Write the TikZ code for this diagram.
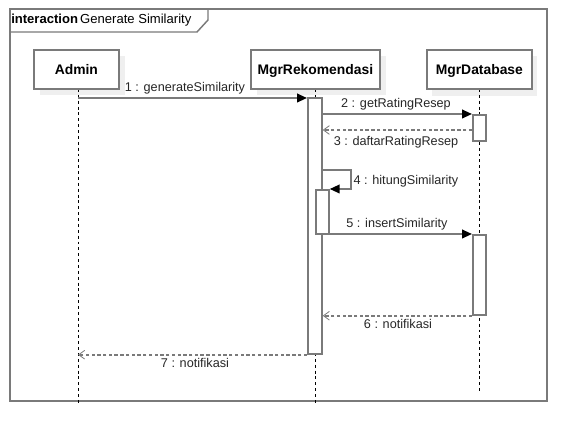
\documentclass[tikz,border=0pt]{standalone}
\usepackage{fontspec}
\setmainfont{Liberation Sans}
\usetikzlibrary{arrows.meta,positioning}
\definecolor{ln}{HTML}{7A7A7A}
\definecolor{sh}{HTML}{EFEFEF}
\tikzset{
  head/.style={draw=ln,line width=1.3pt,fill=white,minimum width=#1,minimum height=29.25pt,anchor=north west,inner sep=0pt,font=\fontsize{10.4}{11}\selectfont\bfseries,text depth=0pt},
  shadowbox/.style={fill=sh,draw=none},
  life/.style={draw=black,line width=0.6pt,dash pattern=on 2.2pt off 2.2pt},
  act/.style={draw=ln,line width=1.3pt,fill=white},
  sync/.style={draw=ln,line width=1.4pt,-{Triangle[length=7.5pt,width=6.5pt,fill=black,color=black]}},
  ret/.style={draw=ln,line width=1.2pt,dash pattern=on 2.5pt off 1.8pt,-{Straight Barb[length=4.5pt,width=6.5pt,line width=0.6pt]}},
  lbl/.style={font=\fontsize{9.5}{10}\selectfont,text=black!85,inner sep=1pt},
}
\begin{document}
\begin{tikzpicture}[x=0.75pt,y=-0.75pt]
\useasboundingbox (0,0) rectangle (586,448);
% frame
\draw[draw=ln,line width=1.3pt] (10,9) rectangle (547,401);
\draw[draw=ln,line width=1.1pt] (10,32) -- (197,32) -- (208,20) -- (208,9);
\node[anchor=west,inner sep=0pt,font=\fontsize{9.8}{10}\selectfont] (title) at (11,20.5) {\textbf{interaction}\,Generate Similarity};
% shadows
\fill[shadowbox] (40,56) rectangle (125,95);
\fill[shadowbox] (257,56) rectangle (386,95);
\fill[shadowbox] (432,56) rectangle (537,96);
% lifelines
\coordinate (lA0) at (78,89);
\coordinate (lA1) at (78,405);
\coordinate (lM0) at (315,89);
\coordinate (lM1) at (315,405);
\coordinate (lD0) at (479,89);
\coordinate (lD1) at (479,392);
\draw[life] (lA0) -- (lA1);
\draw[life] (lM0) -- (lM1);
\draw[life] (lD0) -- (lD1);
% heads
\node[head=85*0.75pt] (admin) at (33,49) {Admin};
\node[head=129*0.75pt] (mgrrek) at (250,49) {MgrRekomendasi};
\node[head=105*0.75pt] (mgrdb) at (426,49) {MgrDatabase};
% activations
\node[act,minimum width=14*0.75pt,minimum height=256*0.75pt,anchor=north west,inner sep=0pt] (actM) at (307,97) {};
\node[act,minimum width=13*0.75pt,minimum height=44*0.75pt,anchor=north west,inner sep=0pt] (actM2) at (315,189) {};
\node[act,minimum width=13*0.75pt,minimum height=26*0.75pt,anchor=north west,inner sep=0pt] (actD1) at (472,114) {};
\node[act,minimum width=13*0.75pt,minimum height=80*0.75pt,anchor=north west,inner sep=0pt] (actD2) at (472,234) {};
% message 1
\coordinate (m1s) at (78,98);
\draw[sync] (m1s) -- (actM.north west |- m1s);
\node[lbl,anchor=south] (l1) at (185,96) {1 : generateSimilarity};
% message 2
\draw[sync] (actM.east |- actD1.north) -- (actD1.north west);
\node[lbl,anchor=south] (l2) at (396,112) {2 : getRatingResep};
% message 3
\coordinate (m3) at (472,130);
\draw[ret] (m3) -- (actM.east |- m3);
\node[lbl,anchor=north] (l3) at (396,135) {3 : daftarRatingResep};
% message 4 self
\coordinate (m4a) at (321,170);
\coordinate (m4b) at (351,170);
\coordinate (m4c) at (351,189);
\draw[sync] (m4a) -- (m4b) -- (m4c) -- (actM2.north east);
\node[lbl,anchor=west] (l4) at (352,181) {4 : hitungSimilarity};
% message 5
\draw[sync] (actM.east |- actD2.north) -- (actD2.north west);
\node[lbl,anchor=south] (l5) at (397,232) {5 : insertSimilarity};
% message 6
\draw[ret] (actD2.south west) -- (actM.east |- actD2.south);
\node[lbl,anchor=north] (l6) at (398,318) {6 : notifikasi};
% message 7
\draw[ret] (actM.south west) -- (lA0 |- actM.south);
\node[lbl,anchor=north] (l7) at (195,357) {7 : notifikasi};
\end{tikzpicture}
\end{document}
